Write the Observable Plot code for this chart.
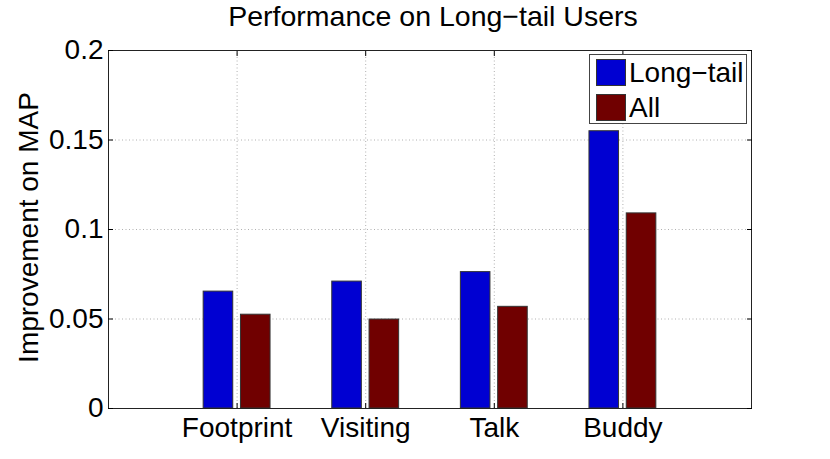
<!DOCTYPE html>
<html><head><meta charset="utf-8">
<script src="https://cdn.jsdelivr.net/npm/d3@7"></script>
<script src="https://cdn.jsdelivr.net/npm/@observablehq/plot@0.6"></script>
<style>
html,body{margin:0;padding:0;background:#fff;}
body{font-family:"Liberation Sans",Arial,Helvetica,sans-serif;}
#wrap{position:relative;width:830px;height:459px;overflow:hidden;}
#legend{position:absolute;left:589px;top:54px;width:158px;height:70px;border:1px solid #444;background:#fff;box-sizing:border-box;}
.sw{position:absolute;left:6px;width:30px;height:27px;box-sizing:border-box;border:1px solid #333;}
.lt{position:absolute;left:39px;font-size:28px;line-height:28px;color:#000;white-space:nowrap;}
</style>
</head><body>
<div id="wrap"></div>
<script>
const categories = ["Footprint", "Visiting", "Talk", "Buddy"];
const longTail = [0.0653, 0.0709, 0.0762, 0.1549];
const allUsers = [0.0524, 0.0497, 0.0568, 0.109];
const seriesNames = ["Long\u2212tail", "All"];
const seriesColors = ["#0000d2", "#700000"];
const yTicks = [0, 0.05, 0.1, 0.15, 0.2];
const yTickLabels = ["0", "0.05", "0.1", "0.15", "0.2"];
const xTicks = [1, 2, 3, 4];
const title = "Performance on Long\u2212tail Users";
const yLabel = "Improvement on MAP";

const groupOffsets = [-0.145, 0.145];
const barWidth = 0.23;

const rows = categories.flatMap((c, i) => [
  {cat: c, pos: i + 1, k: 0, series: seriesNames[0], value: longTail[i]},
  {cat: c, pos: i + 1, k: 1, series: seriesNames[1], value: allUsers[i]}
]);

const font = "Liberation Sans, Arial, Helvetica, sans-serif";
const gridStyle = {stroke: "#b0b0b0", strokeOpacity: 1, strokeDasharray: "1,2.5"};

const chart = Plot.plot({
  width: 830,
  height: 459,
  marginLeft: 108,
  marginRight: 79,
  marginTop: 50,
  marginBottom: 51,
  style: {fontFamily: font, fontSize: "28px", color: "#000", background: "#fff"},
  x: {domain: [0, 5]},
  y: {domain: [0, 0.2]},
  color: {domain: seriesNames, range: seriesColors},
  marks: [
    Plot.gridY(yTicks.slice(1, -1), gridStyle),
    Plot.gridX(xTicks, gridStyle),
    Plot.rect(rows, {
      x1: d => d.pos + groupOffsets[d.k] - barWidth / 2,
      x2: d => d.pos + groupOffsets[d.k] + barWidth / 2,
      y1: () => 0,
      y2: "value",
      fill: "series",
      stroke: "#333",
      strokeWidth: 1
    }),
    Plot.frame({stroke: "#222", strokeWidth: 1}),
    Plot.axisY(yTicks, {anchor: "left", tickSize: 0, tickPadding: 5, tickFormat: (d, i) => yTickLabels[i], fontSize: 28, label: null}),
    Plot.axisY(yTicks, {anchor: "left", tickSize: -5, tickFormat: () => "", label: null}),
    Plot.axisY(yTicks, {anchor: "right", tickSize: -5, tickFormat: () => "", label: null}),
    Plot.axisX(xTicks, {anchor: "bottom", tickSize: 0, tickPadding: 9, tickFormat: (d, i) => categories[i], fontSize: 28, label: null}),
    Plot.axisX(xTicks, {anchor: "bottom", tickSize: -5, tickFormat: () => "", label: null}),
    Plot.axisX(xTicks, {anchor: "top", tickSize: -5, tickFormat: () => "", label: null}),
    Plot.text([title], {frameAnchor: "top", textAnchor: "middle", lineAnchor: "bottom", dx: 3, dy: -25, fontSize: 28.5, fill: "#000", text: d => d}),
    Plot.text([yLabel], {frameAnchor: "left", textAnchor: "middle", rotate: -90, dx: -79, dy: -2, fontSize: 28, fill: "#000", text: d => d})
  ]
});

const wrap = document.getElementById("wrap");
wrap.appendChild(chart);

const legend = document.createElement("div");
legend.id = "legend";
seriesNames.forEach((name, i) => {
  const sw = document.createElement("div");
  sw.className = "sw";
  sw.style.top = (4 + i * 34.5) + "px";
  sw.style.background = seriesColors[i];
  legend.appendChild(sw);
  const t = document.createElement("div");
  t.className = "lt";
  t.style.top = (4 + i * 34.5) + "px";
  t.textContent = name;
  legend.appendChild(t);
});
wrap.appendChild(legend);
</script>
</body></html>
